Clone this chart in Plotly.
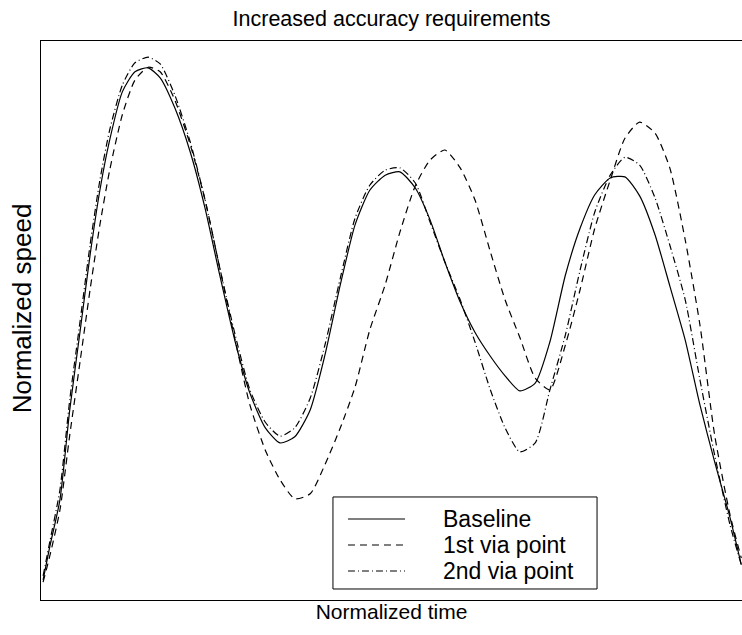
import plotly.graph_objects as go

# Normalized time grid (shared by all three series)
time = [0.003, 0.013, 0.027, 0.041, 0.056, 0.070, 0.084, 0.098, 0.116, 0.134,
        0.153, 0.170, 0.191, 0.213, 0.234, 0.255, 0.277, 0.298, 0.320, 0.341,
        0.362, 0.384, 0.405, 0.427, 0.448, 0.469, 0.491, 0.512, 0.534, 0.555,
        0.576, 0.598, 0.619, 0.641, 0.662, 0.683, 0.705, 0.726, 0.748, 0.769,
        0.790, 0.812, 0.833, 0.854, 0.876, 0.897, 0.919, 0.940, 0.961, 0.983,
        0.999]

baseline = [0.036, 0.098, 0.179, 0.340, 0.483, 0.617, 0.733, 0.823, 0.909, 0.945,
            0.952, 0.934, 0.880, 0.801, 0.701, 0.581, 0.462, 0.370, 0.308, 0.281,
            0.292, 0.340, 0.438, 0.564, 0.671, 0.733, 0.760, 0.766, 0.737, 0.680,
            0.605, 0.533, 0.479, 0.436, 0.401, 0.374, 0.388, 0.462, 0.581, 0.665,
            0.725, 0.755, 0.757, 0.723, 0.653, 0.562, 0.465, 0.349, 0.247, 0.147,
            0.063]

via1 = [0.032, 0.081, 0.161, 0.295, 0.429, 0.555, 0.671, 0.769, 0.868, 0.930,
        0.953, 0.945, 0.894, 0.814, 0.716, 0.594, 0.465, 0.349, 0.268, 0.215,
        0.181, 0.190, 0.242, 0.308, 0.381, 0.483, 0.564, 0.658, 0.741, 0.787,
        0.805, 0.773, 0.716, 0.623, 0.537, 0.470, 0.397, 0.376, 0.456, 0.555,
        0.665, 0.751, 0.826, 0.855, 0.835, 0.773, 0.644, 0.492, 0.295, 0.152,
        0.075]

via2 = [0.043, 0.107, 0.197, 0.358, 0.501, 0.635, 0.751, 0.841, 0.921, 0.961,
        0.971, 0.959, 0.903, 0.819, 0.716, 0.594, 0.474, 0.376, 0.318, 0.293,
        0.308, 0.361, 0.456, 0.576, 0.683, 0.742, 0.769, 0.773, 0.746, 0.676,
        0.605, 0.537, 0.462, 0.376, 0.308, 0.265, 0.281, 0.376, 0.474, 0.590,
        0.694, 0.760, 0.792, 0.778, 0.719, 0.635, 0.537, 0.394, 0.259, 0.134,
        0.063]

names = ["Baseline", "1st via point", "2nd via point"]
dashes = ["solid", "7px,5px", "7px,3px,1px,3px"]
series = [baseline, via1, via2]

FONT = "Liberation Sans, Arial, sans-serif"

fig = go.Figure()
for name, vals, dash in zip(names, series, dashes):
    fig.add_trace(go.Scatter(
        x=time, y=vals, mode="lines", name=name,
        line=dict(color="black", width=1.2, dash=dash, shape="spline", smoothing=0.6),
        showlegend=False,
    ))

# Legend box drawn to match the reference (long line samples, large text)
lx0, lx1, ly0, ly1 = 0.4165, 0.7932, 0.0197, 0.1843
fig.add_shape(type="rect", xref="paper", yref="paper", x0=lx0, x1=lx1, y0=ly0, y1=ly1,
              line=dict(color="black", width=1), fillcolor="white", layer="above")
rows = [0.1449, 0.0984, 0.0519]
for name, dash, ry in zip(names, dashes, rows):
    fig.add_shape(type="line", xref="paper", yref="paper", x0=0.4379, x1=0.5193,
                  y0=ry, y1=ry, line=dict(color="black", width=1.2, dash=dash), layer="above")
    fig.add_annotation(text=name, xref="paper", yref="paper", x=0.5721, y=ry,
                       xanchor="left", yanchor="middle", showarrow=False, borderpad=0,
                       font=dict(family=FONT, size=23, color="black"))

# Y axis label (slightly above plot centre in the reference)
fig.add_annotation(text="Normalized speed", xref="paper", yref="paper",
                   x=-0.0271, y=0.522, xanchor="center", yanchor="middle",
                   textangle=-90, showarrow=False,
                   font=dict(family=FONT, size=26, color="black"))

fig.update_layout(
    width=742, height=635,
    margin=dict(l=41, r=0, t=41, b=35),
    paper_bgcolor="white", plot_bgcolor="white",
    font=dict(family=FONT, size=21, color="black"),
    title=dict(text="Increased accuracy requirements", x=0.5, xref="paper",
               y=1 - 18 / 635, yref="container", xanchor="center", yanchor="middle",
               font=dict(family=FONT, size=21.5, color="black")),
)
fig.update_xaxes(range=[0, 1], showgrid=False, zeroline=False, showticklabels=False,
                 ticks="", showline=True, linecolor="black", linewidth=1, mirror=True,
                 title=dict(text="Normalized time", standoff=4,
                            font=dict(family=FONT, size=21, color="black")))
fig.update_yaxes(range=[0, 1], showgrid=False, zeroline=False, showticklabels=False,
                 ticks="", showline=True, linecolor="black", linewidth=1, mirror=False)

fig.write_html("out.html")
